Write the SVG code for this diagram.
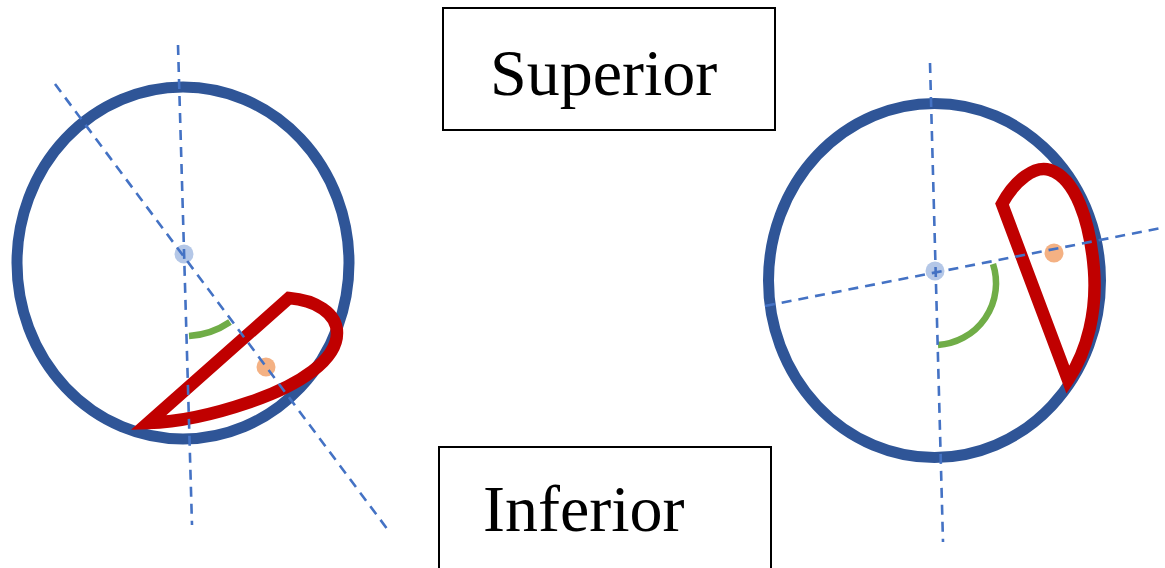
<svg xmlns="http://www.w3.org/2000/svg" width="1165" height="568" viewBox="0 0 1165 568">
  <style>
    .ring { fill: none; stroke: #2f5597; stroke-width: 11; }
    .flap { fill: none; stroke: #c00000; stroke-width: 12.5; stroke-linejoin: miter; stroke-miterlimit: 10; }
    .axis { fill: none; stroke: #4472c4; stroke-width: 2.6; stroke-dasharray: 10 7; }
    .angle { fill: none; stroke: #70ad47; stroke-width: 6.5; }
    .pivot { fill: #b4c7e7; }
    .centroid { fill: #f4b183; }
    .label-box { fill: #ffffff; stroke: #000000; stroke-width: 2; }
    .label { font-family: "Liberation Serif", "Times New Roman", serif; font-size: 66px; fill: #000000; }
  </style>

  <rect width="1165" height="568" fill="#ffffff"/>

  <!-- left view: flap at the inferior rim -->
  <g id="left-view">
    <ellipse class="ring" cx="183" cy="263" rx="166" ry="176"/>
    <path class="flap" d="M148,423 L289,298 C315,300 337,313 337,333 C337,360 300,385 250,402 C215,414 180,422 148,423 Z"/>
    <circle class="pivot" cx="184" cy="254" r="9.5"/>
    <circle class="centroid" cx="266" cy="367" r="9.5"/>
    <path class="angle" d="M189,336 A82 82 0 0 0 230,322"/>
  </g>

  <!-- right view: flap at the superior-temporal rim -->
  <g id="right-view">
    <ellipse class="ring" cx="934.5" cy="280.5" rx="166" ry="177"/>
    <path class="flap" d="M1002,204 C1015,180 1035,165 1050,170 C1075,178 1090,220 1094,270 C1097,310 1088,350 1068,380 Z"/>
    <circle class="pivot" cx="935" cy="271" r="9.5"/>
    <circle class="centroid" cx="1054" cy="253" r="9.5"/>
    <path class="angle" d="M993,264 A62 62 0 0 1 938,345"/>
  </g>

  <!-- reference axes -->
  <g id="axes">
    <line class="axis" x1="178" y1="45" x2="192" y2="525"/>
    <line class="axis" x1="55" y1="84" x2="388" y2="530"/>
    <line class="axis" x1="930" y1="63" x2="943" y2="542"/>
    <line class="axis" x1="765" y1="306" x2="1161" y2="228"/>
  </g>

  <g id="superior-label">
    <rect class="label-box" x="443" y="8" width="332" height="122"/>
    <text class="label" x="490" y="95">Superior</text>
  </g>

  <g id="inferior-label">
    <rect class="label-box" x="439" y="447" width="332" height="130"/>
    <text class="label" x="483" y="531">Inferior</text>
  </g>
</svg>
